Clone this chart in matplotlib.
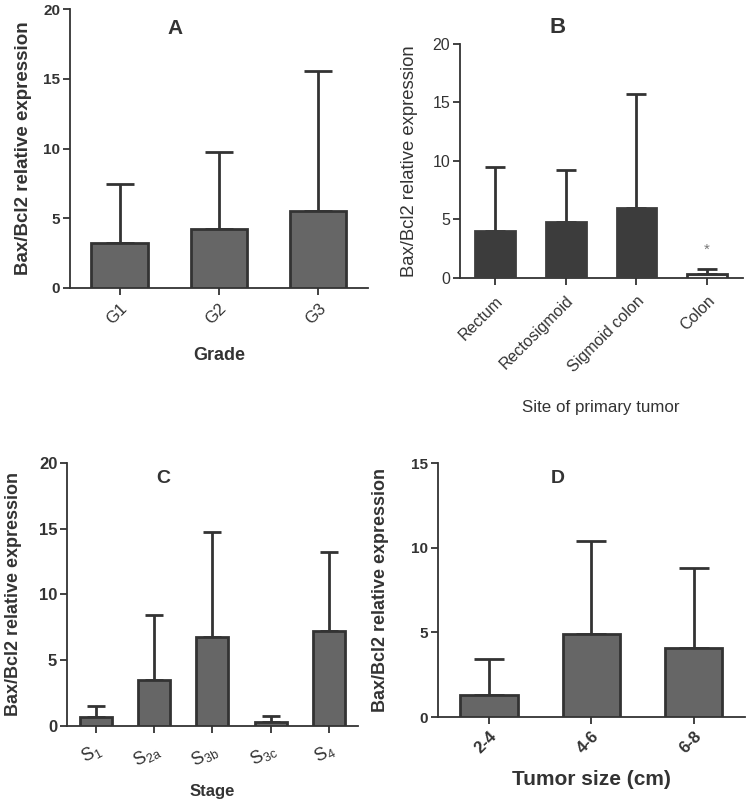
import numpy as np
import matplotlib
matplotlib.use("Agg")
import matplotlib.pyplot as plt

plt.rcParams["font.family"] = ["Liberation Sans", "DejaVu Sans"]
plt.rcParams["mathtext.default"] = "regular"
plt.rcParams["hatch.color"] = "#888888"

ink = "#333333"

# Panel A - grade
grade_labels = ["G1", "G2", "G3"]
grade_mean = [3.2, 4.2, 5.5]
grade_upper = [7.45, 9.75, 15.55]

# Panel B - site of primary tumor
site_labels = ["Rectum", "Rectosigmoid", "Sigmoid colon", "Colon"]
site_mean = [4.0, 4.8, 6.0, 0.3]
site_upper = [9.5, 9.2, 15.7, 0.8]

# Panel C - stage
stage_labels = [r"$S_1$", r"$S_{2a}$", r"$S_{3b}$", r"$S_{3c}$", r"$S_4$"]
stage_mean = [0.65, 3.5, 6.8, 0.3, 7.2]
stage_upper = [1.5, 8.45, 14.75, 0.75, 13.2]

# Panel D - tumor size
size_labels = ["2-4", "4-6", "6-8"]
size_mean = [1.3, 4.9, 4.1]
size_upper = [3.45, 10.4, 8.8]


def bar_panel(ax, labels, mean, upper, width, cap, color, edge, ymax, ystep,
              bold=True, tick_size=10, xtick_size=12, rot=45, ylab_size=13, xpad=2):
    x = np.arange(len(labels))
    ax.bar(x, mean, width=width, color=color, edgecolor=edge, linewidth=2, zorder=3)
    yerr = [np.zeros(len(mean)), np.array(upper) - np.array(mean)]
    ax.errorbar(x, mean, yerr=yerr, fmt="none", ecolor=ink, elinewidth=2,
                capsize=cap, capthick=2, zorder=2)
    ax.set_xlim(-0.5, len(labels) - 0.5)
    ax.set_ylim(0, ymax)
    ax.set_yticks(np.arange(0, ymax + 1, ystep))
    ax.set_xticks(x)
    w = "bold" if bold else "normal"
    ax.set_xticklabels(labels, rotation=rot, ha="right", rotation_mode="anchor",
                       fontsize=xtick_size, color=ink)
    for t in ax.get_yticklabels():
        t.set_fontweight(w)
        t.set_fontsize(tick_size + 1)
        t.set_color(ink)
    for s in ["top", "right"]:
        ax.spines[s].set_visible(False)
    for s in ["left", "bottom"]:
        ax.spines[s].set_linewidth(1.3)
        ax.spines[s].set_color(ink)
    ax.tick_params(axis="both", direction="out", length=5, width=1.3, color=ink, pad=2)
    ax.tick_params(axis="x", pad=xpad)
    ax.set_ylabel("Bax/Bcl2 relative expression", fontsize=ylab_size, fontweight=w, color=ink)
    return x


fig = plt.figure(figsize=(7.5, 8.08), dpi=100)

# A
axA = fig.add_axes([0.0933, 0.6436, 0.397, 0.345])
bar_panel(axA, grade_labels, grade_mean, grade_upper, 0.57, 10, "#666666", ink, 20, 5,
          xtick_size=12, ylab_size=13.5, xpad=4)
axA.set_xlabel("Grade", fontsize=13, fontweight="bold", color=ink)
axA.xaxis.set_label_coords(0.5, -0.21)
axA.yaxis.set_label_coords(-0.128, 0.5)
axA.text(0.352, 0.932, "A", transform=axA.transAxes, ha="center", va="center",
         fontsize=15, fontweight="bold", color=ink)

# B
axB = fig.add_axes([0.613, 0.656, 0.377, 0.29])
xb = bar_panel(axB, site_labels, site_mean, site_upper, 0.56, 7, "#3c3c3c", "#3c3c3c",
               20, 5, bold=False, tick_size=10.5, xtick_size=11.5, xpad=6)
bars = axB.patches
bars[-1].set_facecolor("#f4f4f4")
bars[-1].set_hatch("---")
bars[-1].set_edgecolor(ink)
axB.text(xb[-1], 2.4, "*", ha="center", va="center", fontsize=11, color="#777777")
axB.set_xlabel("Site of primary tumor", fontsize=12.2, color=ink)
axB.xaxis.set_label_coords(0.5, -0.52)
axB.set_ylabel("Bax/Bcl2 relative expression", fontsize=13.3, color=ink)
axB.yaxis.set_label_coords(-0.148, 0.5)
axB.text(0.346, 1.068, "B", transform=axB.transAxes, ha="center", va="center",
         fontsize=16, fontweight="bold", color=ink)

# C
axC = fig.add_axes([0.0893, 0.1015, 0.388, 0.3255])
bar_panel(axC, stage_labels, stage_mean, stage_upper, 0.55, 6.5, "#666666", ink, 20, 5,
          tick_size=11, xtick_size=13, rot=28, ylab_size=13, xpad=5)
axC.set_xlabel("Stage", fontsize=12, fontweight="bold", color=ink)
axC.xaxis.set_label_coords(0.5, -0.22)
axC.yaxis.set_label_coords(-0.155, 0.5)
axC.text(0.33, 0.94, "C", transform=axC.transAxes, ha="center", va="center",
         fontsize=14, fontweight="bold", color=ink)

# D
axD = fig.add_axes([0.584, 0.1126, 0.409, 0.314])
bar_panel(axD, size_labels, size_mean, size_upper, 0.56, 11, "#666666", ink, 15, 5,
          xtick_size=12, ylab_size=13, xpad=3)
for t in axD.get_xticklabels():
    t.set_fontweight("bold")
axD.set_xlabel("Tumor size (cm)", fontsize=15, fontweight="bold", color=ink)
axD.xaxis.set_label_coords(0.5, -0.21)
axD.yaxis.set_label_coords(-0.16, 0.5)
axD.text(0.39, 0.94, "D", transform=axD.transAxes, ha="center", va="center",
         fontsize=14, fontweight="bold", color=ink)

fig.savefig("out.png", dpi=100)
